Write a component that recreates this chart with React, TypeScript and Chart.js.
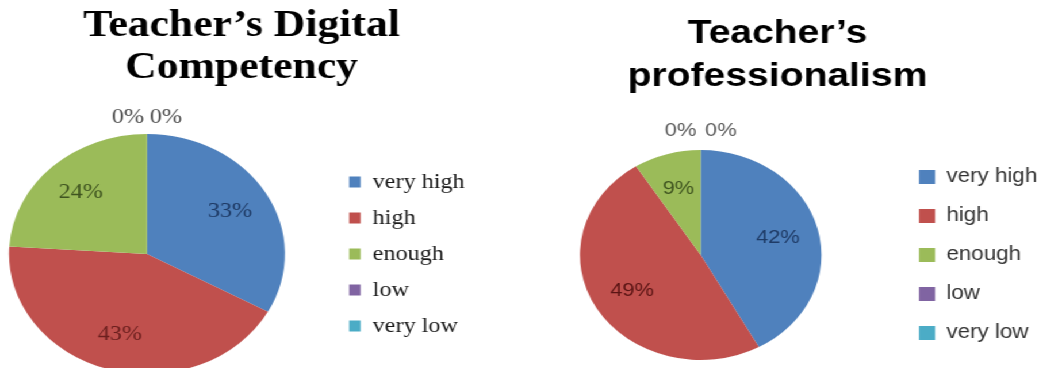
import React, { useEffect, useRef } from "react";
import { Chart, registerables } from "chart.js";

Chart.register(...registerables);

// ---- data ----
const categories = ["very high", "high", "enough", "low", "very low"];
const digitalCompetency = [33, 43, 24, 0, 0];
const professionalism = [42, 49, 9, 0, 0];
const titleDigital = ["Teacher\u2019s Digital", "Competency"];
const titleProf = ["Teacher\u2019s", "professionalism"];

// ---- styles ----
const sliceColors = ["#4F81BD", "#C0504D", "#9BBB59", "#8064A2", "#4BACC6"];
const labelColorsLeft = ["#1F3B66", "#6B1F1E", "#3F5420", "#4d4d4d", "#4d4d4d"];
const labelColorsRight = ["#1F3B66", "#5A1414", "#3F5420", "#595959", "#595959"];
const SX = 1.15; // horizontal stretch of the whole picture

const pieLabels = {
  id: "pieLabels",
  afterDatasetsDraw(chart: any, _args: any, opts: any) {
    const { ctx } = chart;
    const meta = chart.getDatasetMeta(0);
    const data = chart.data.datasets[0].data as number[];
    ctx.save();
    ctx.font = opts.font;
    ctx.textAlign = "center";
    ctx.textBaseline = "middle";
    const zeros: number[] = [];
    meta.data.forEach((arc: any, i: number) => {
      const v = data[i];
      if (v === 0) {
        zeros.push(i);
        return;
      }
      const mid = (arc.startAngle + arc.endAngle) / 2;
      const r = arc.outerRadius * opts.dist;
      ctx.fillStyle = opts.colors[i];
      ctx.fillText(v + "%", arc.x + Math.cos(mid) * r, arc.y + Math.sin(mid) * r);
    });
    if (zeros.length) {
      const arc: any = meta.data[zeros[0]];
      zeros.forEach((i, k) => {
        ctx.fillStyle = opts.colors[i];
        ctx.fillText(
          data[i] + "%",
          arc.x + (k - (zeros.length - 1) / 2) * opts.zeroStep,
          arc.y - arc.outerRadius - opts.zeroGap
        );
      });
    }
    ctx.restore();
  },
};

const titleShift = {
  id: "titleShift",
  afterLayout(chart: any, _args: any, opts: any) {
    const t = chart.titleBlock;
    if (t && opts.dx) {
      t.left += opts.dx;
      t.right += opts.dx;
    }
  },
};

type Cfg = {
  x: number;
  w: number;
  h: number;
  values: number[];
  title: string[];
  titleFont: any;
  titlePad: { top: number; bottom: number };
  titleDx: number;
  radius: number;
  padBottom: number;
  legendFont: any;
  legendColor: string;
  legendPad: number;
  boxW: number;
  boxH: number;
  labelFont: string;
  labelColors: string[];
  labelDist: number;
  zeroStep: number;
  zeroGap: number;
};

function PieChart({ cfg }: { cfg: Cfg }) {
  const ref = useRef<HTMLCanvasElement | null>(null);
  useEffect(() => {
    const chart = new Chart(ref.current as HTMLCanvasElement, {
      type: "pie",
      data: {
        labels: categories,
        datasets: [
          {
            data: cfg.values,
            backgroundColor: sliceColors,
            borderWidth: 0,
          },
        ],
      },
      options: {
        responsive: false,
        animation: false,
        events: [],
        radius: cfg.radius,
        layout: { padding: { left: 0, right: 0, top: 0, bottom: cfg.padBottom } },
        plugins: {
          title: {
            display: true,
            text: cfg.title,
            color: "#000",
            font: cfg.titleFont,
            padding: cfg.titlePad,
          },
          legend: {
            display: true,
            position: "right",
            fullSize: false,
            labels: {
              font: cfg.legendFont,
              color: cfg.legendColor,
              boxWidth: cfg.boxW,
              boxHeight: cfg.boxH,
              padding: cfg.legendPad,
            },
          },
          tooltip: { enabled: false },
          pieLabels: {
            font: cfg.labelFont,
            colors: cfg.labelColors,
            dist: cfg.labelDist,
            zeroStep: cfg.zeroStep,
            zeroGap: cfg.zeroGap,
          },
          titleShift: { dx: cfg.titleDx },
        } as any,
      },
      plugins: [pieLabels, titleShift],
    });
    return () => chart.destroy();
  }, []);
  return (
    <canvas
      ref={ref}
      width={cfg.w}
      height={cfg.h}
      style={{ position: "absolute", left: cfg.x, top: 0, width: cfg.w, height: cfg.h }}
    />
  );
}

const serif = "'Liberation Serif', 'Times New Roman', serif";
const sans = "'Liberation Sans', Arial, sans-serif";

const leftCfg: Cfg = {
  x: -33,
  w: 447,
  h: 380,
  values: digitalCompetency,
  title: titleDigital,
  titleFont: { family: serif, size: 38, weight: "bold", lineHeight: 42 / 38 },
  titlePad: { top: 5, bottom: 44 },
  titleDx: 19.5,
  radius: 120,
  padBottom: 5,
  legendFont: { family: serif, size: 21 },
  legendColor: "#1a1a1a",
  legendPad: 15,
  boxW: 10,
  boxH: 11,
  labelFont: "21px " + serif,
  labelColors: labelColorsLeft,
  labelDist: 0.7,
  zeroStep: 33,
  zeroGap: 17,
};

const rightCfg: Cfg = {
  x: 439,
  w: 473,
  h: 385,
  values: professionalism,
  title: titleProf,
  titleFont: { family: sans, size: 34, weight: "bold", lineHeight: 43 / 34 },
  titlePad: { top: 12, bottom: 32 },
  titleDx: 0.5,
  radius: 105,
  padBottom: 5,
  legendFont: { family: sans, size: 19.5 },
  legendColor: "#333333",
  legendPad: 19.5,
  boxW: 14,
  boxH: 14,
  labelFont: "19px " + sans,
  labelColors: labelColorsRight,
  labelDist: 0.66,
  zeroStep: 35,
  zeroGap: 19,
};

export default function App() {
  return (
    <div
      style={{
        position: "fixed",
        left: 0,
        top: 0,
        width: 1039,
        height: 368,
        overflow: "hidden",
        background: "#ffffff",
      }}
    >
      <div
        style={{
          position: "absolute",
          left: 0,
          top: 0,
          width: 1039 / SX,
          height: 400,
          transform: `scaleX(${SX})`,
          transformOrigin: "0 0",
        }}
      >
        <PieChart cfg={leftCfg} />
        <PieChart cfg={rightCfg} />
      </div>
    </div>
  );
}
